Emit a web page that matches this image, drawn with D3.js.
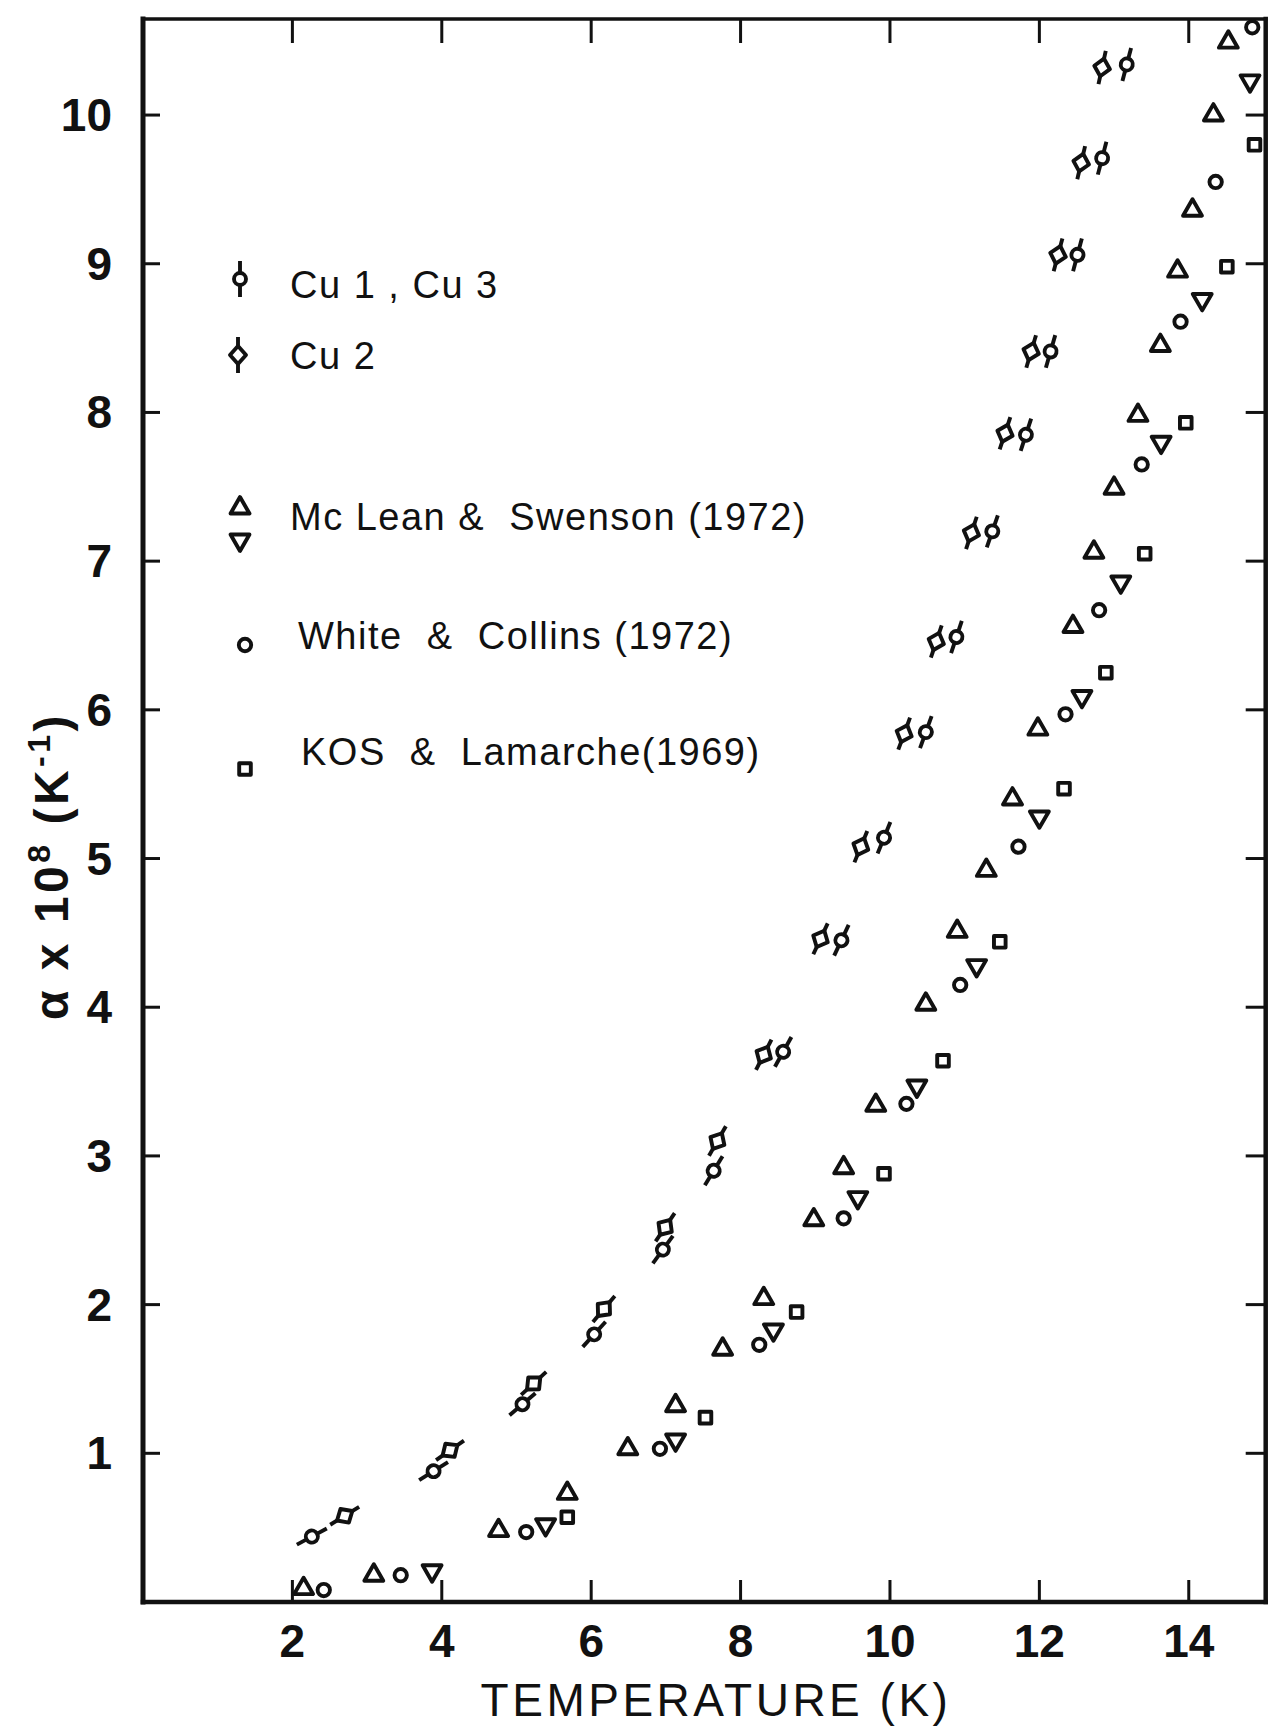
<!DOCTYPE html>
<html>
<head>
<meta charset="utf-8">
<script src="https://cdn.jsdelivr.net/npm/d3@7"></script>
<style>
  body { margin: 0; background: #fff; }
  text { font-family: "Liberation Sans", Arial, sans-serif; fill: #111; }
</style>
</head>
<body>
<div id="chart"></div>
<script>
// Cu 1, Cu 3 (circle with bar) : [T (K), alpha x 1e8]
const cu13 = [
  [2.26, 0.44], [3.89, 0.88], [5.08, 1.33], [6.04, 1.80], [6.96, 2.37], [7.64, 2.90],
  [8.57, 3.70], [9.35, 4.45], [9.92, 5.14], [10.48, 5.85], [10.89, 6.49], [11.37, 7.20],
  [11.82, 7.85], [12.15, 8.41], [12.51, 9.06], [12.84, 9.71], [13.17, 10.34]
];
// Cu 2 (diamond with bar)
const cu2 = [
  [2.70, 0.58], [4.11, 1.02], [5.23, 1.47], [6.17, 1.97], [6.99, 2.52], [7.69, 3.10],
  [8.31, 3.68], [9.07, 4.46], [9.61, 5.08], [10.19, 5.84], [10.62, 6.46], [11.09, 7.19],
  [11.54, 7.86], [11.89, 8.41], [12.25, 9.06], [12.56, 9.68], [12.84, 10.32]
];
// McLean & Swenson (1972), up triangles
const mcleanUp = [
  [2.15, 0.09], [3.09, 0.18], [4.76, 0.48], [5.68, 0.73], [6.49, 1.03], [7.13, 1.32],
  [7.76, 1.70], [8.31, 2.04], [8.98, 2.57], [9.38, 2.92], [9.81, 3.34], [10.48, 4.02],
  [10.90, 4.51], [11.29, 4.92], [11.64, 5.40], [11.98, 5.87], [12.45, 6.56], [12.73, 7.06],
  [13.00, 7.49], [13.32, 7.98], [13.62, 8.45], [13.85, 8.95], [14.05, 9.36], [14.33, 10.00],
  [14.53, 10.49]
];
// McLean & Swenson (1972), down triangles
const mcleanDown = [
  [3.87, 0.21], [5.39, 0.52], [7.13, 1.09], [8.44, 1.83], [9.57, 2.72], [10.36, 3.47],
  [11.16, 4.28], [12.00, 5.28], [12.57, 6.09], [13.09, 6.86], [13.63, 7.80], [14.18, 8.76],
  [14.82, 10.23]
];
// White & Collins (1972)
const whiteCollins = [
  [2.42, 0.08], [3.45, 0.18], [5.13, 0.47], [6.92, 1.03], [8.25, 1.73], [9.38, 2.58],
  [10.22, 3.35], [10.94, 4.15], [11.72, 5.08], [12.35, 5.97], [12.80, 6.67], [13.37, 7.65],
  [13.89, 8.61], [14.36, 9.55], [14.85, 10.59]
];
// Kos & Lamarche (1969)
const kosLamarche = [
  [5.68, 0.57], [7.53, 1.24], [8.75, 1.95], [9.92, 2.88], [10.71, 3.64], [11.47, 4.44],
  [12.33, 5.47], [12.89, 6.25], [13.41, 7.05], [13.96, 7.93], [14.51, 8.98], [14.88, 9.80]
];

const xTicks = [2, 4, 6, 8, 10, 12, 14];
const yTicks = [1, 2, 3, 4, 5, 6, 7, 8, 9, 10];

const legendLabels = [
  "Cu 1 , Cu 3",
  "Cu 2",
  "Mc Lean &  Swenson (1972)",
  "White  &  Collins (1972)",
  "KOS  &  Lamarche(1969)"
];

/***************************************************************************/
const width = 1276, height = 1729;

const svg = d3.select("#chart")
  .append("svg")
  .attr("width", width)
  .attr("height", height);

svg.append("rect").attr("width", width).attr("height", height).attr("fill", "#fff");

const x = d3.scaleLinear().domain([0, 15.03]).range([143, 1265.7]);
const y = d3.scaleLinear().domain([0, 10.646]).range([1602, 19]);

const ink = "#111";
const sw = 3.9; // marker stroke

// frame
const [x0, x1] = x.range();
const [yb, yt] = y.range();
const frame = svg.append("g").attr("stroke", ink).attr("stroke-linecap", "square");
frame.append("line").attr("x1", x0).attr("x2", x0).attr("y1", yt).attr("y2", yb).attr("stroke-width", 5);
frame.append("line").attr("x1", x0).attr("x2", x1).attr("y1", yb).attr("y2", yb).attr("stroke-width", 4.5);
frame.append("line").attr("x1", x0).attr("x2", x1).attr("y1", yt).attr("y2", yt).attr("stroke-width", 3.5);
frame.append("line").attr("x1", x1).attr("x2", x1).attr("y1", yt).attr("y2", yb).attr("stroke-width", 4.5);

// ticks (all pointing inward)
const ticks = svg.append("g").attr("stroke", ink).attr("stroke-width", 3);
ticks.selectAll(".tb").data(xTicks).enter().append("line")
  .attr("x1", d => x(d)).attr("x2", d => x(d)).attr("y1", yb).attr("y2", yb - 22);
ticks.selectAll(".tt").data(xTicks).enter().append("line")
  .attr("x1", d => x(d)).attr("x2", d => x(d)).attr("y1", yt).attr("y2", yt + 24);
ticks.selectAll(".tl").data(yTicks).enter().append("line")
  .attr("x1", x0).attr("x2", x0 + 17).attr("y1", d => y(d)).attr("y2", d => y(d));
ticks.selectAll(".tr").data(yTicks).enter().append("line")
  .attr("x1", x1).attr("x2", x1 - 20).attr("y1", d => y(d)).attr("y2", d => y(d));

// tick labels
svg.selectAll(".xl").data(xTicks).enter().append("text")
  .attr("x", d => x(d)).attr("y", 1657)
  .attr("text-anchor", "middle")
  .style("font-size", "46px").style("font-weight", "bold")
  .text(d => d);

svg.selectAll(".yl").data(yTicks).enter().append("text")
  .attr("x", 112).attr("y", d => y(d) + 16)
  .attr("text-anchor", "end")
  .style("font-size", "46px").style("font-weight", "bold")
  .text(d => d);

// axis titles
svg.append("text")
  .attr("x", 716).attr("y", 1716)
  .attr("text-anchor", "middle")
  .style("font-size", "46px").style("letter-spacing", "3.5px")
  .text("TEMPERATURE (K)");

const yTitle = svg.append("text")
  .attr("transform", "translate(68,866) rotate(-90)")
  .attr("text-anchor", "middle")
  .style("font-size", "48px").style("font-weight", "bold").style("letter-spacing", "3.5px");
yTitle.append("tspan").text("α x 10");
yTitle.append("tspan").attr("dy", -18).style("font-size", "32px").text("8");
yTitle.append("tspan").attr("dy", 18).text(" (K");
yTitle.append("tspan").attr("dy", -18).style("font-size", "32px").text("-1");
yTitle.append("tspan").attr("dy", 18).text(")");

// open markers
const sizes = { up: 155, circle: 120, square: 135 };
const marker = (type, size, rot = 0) => g => g
  .attr("d", d3.symbol().type(type).size(size))
  .attr("transform", d => `translate(${x(d[0])},${y(d[1])}) rotate(${rot})`)
  .attr("fill", "#fff").attr("stroke", ink).attr("stroke-width", sw)
  .attr("stroke-linejoin", "round");

const pts = svg.append("g");
pts.selectAll(".up").data(mcleanUp).enter().append("path").call(marker(d3.symbolTriangle, sizes.up));
pts.selectAll(".dn").data(mcleanDown).enter().append("path").call(marker(d3.symbolTriangle, sizes.up, 180));
pts.selectAll(".wc").data(whiteCollins).enter().append("path").call(marker(d3.symbolCircle, sizes.circle));
pts.selectAll(".kl").data(kosLamarche).enter().append("path").call(marker(d3.symbolSquare, sizes.square));

// Cu points: bar drawn along the local direction of the curve
function barAngles(series) {
  return series.map((p, i) => {
    const a = series[Math.max(i - 1, 0)], b = series[Math.min(i + 1, series.length - 1)];
    return Math.atan2(y(b[1]) - y(a[1]), x(b[0]) - x(a[0])) * 180 / Math.PI;
  });
}

const diamond = "M9,0L0,8L-9,0L0,-8Z";

function drawCu(series, isDiamond) {
  const ang = barAngles(series);
  const g = svg.append("g").selectAll("g").data(series).enter().append("g")
    .attr("transform", (d, i) => `translate(${x(d[0])},${y(d[1])}) rotate(${ang[i]})`);
  g.append("line").attr("x1", -17).attr("x2", 17).attr("stroke", ink).attr("stroke-width", sw);
  if (isDiamond) {
    g.append("path").attr("d", diamond).attr("fill", "#fff").attr("stroke", ink)
      .attr("stroke-width", sw).attr("stroke-linejoin", "round");
  } else {
    g.append("circle").attr("r", 6).attr("fill", "#fff").attr("stroke", ink).attr("stroke-width", sw);
  }
}
drawCu(cu13, false);
drawCu(cu2, true);

// legend
const leg = svg.append("g");
const legText = [298, 369, 530, 649, 765];
const legX = [290, 290, 290, 298, 301];
leg.selectAll("text").data(legendLabels).enter().append("text")
  .attr("x", (d, i) => legX[i]).attr("y", (d, i) => legText[i])
  .attr("xml:space", "preserve")
  .style("white-space", "pre")
  .style("font-size", "38px").style("letter-spacing", "1.5px")
  .text(d => d);

const cuLeg = leg.append("g").attr("transform", "translate(240,279) rotate(90)");
cuLeg.append("line").attr("x1", -18).attr("x2", 18).attr("stroke", ink).attr("stroke-width", sw);
cuLeg.append("circle").attr("r", 6).attr("fill", "#fff").attr("stroke", ink).attr("stroke-width", sw);

const cu2Leg = leg.append("g").attr("transform", "translate(238,355) rotate(90)");
cu2Leg.append("line").attr("x1", -18).attr("x2", 18).attr("stroke", ink).attr("stroke-width", sw);
cu2Leg.append("path").attr("d", diamond).attr("fill", "#fff").attr("stroke", ink)
  .attr("stroke-width", sw).attr("stroke-linejoin", "round");

const legMark = (type, size, tx, ty, rot = 0) => leg.append("path")
  .attr("d", d3.symbol().type(type).size(size))
  .attr("transform", `translate(${tx},${ty}) rotate(${rot})`)
  .attr("fill", "#fff").attr("stroke", ink).attr("stroke-width", sw).attr("stroke-linejoin", "round");
legMark(d3.symbolTriangle, sizes.up, 240, 508);
legMark(d3.symbolTriangle, sizes.up, 240, 540, 180);
legMark(d3.symbolCircle, sizes.circle, 245, 645);
legMark(d3.symbolSquare, sizes.square, 245, 769);
</script>
</body>
</html>
